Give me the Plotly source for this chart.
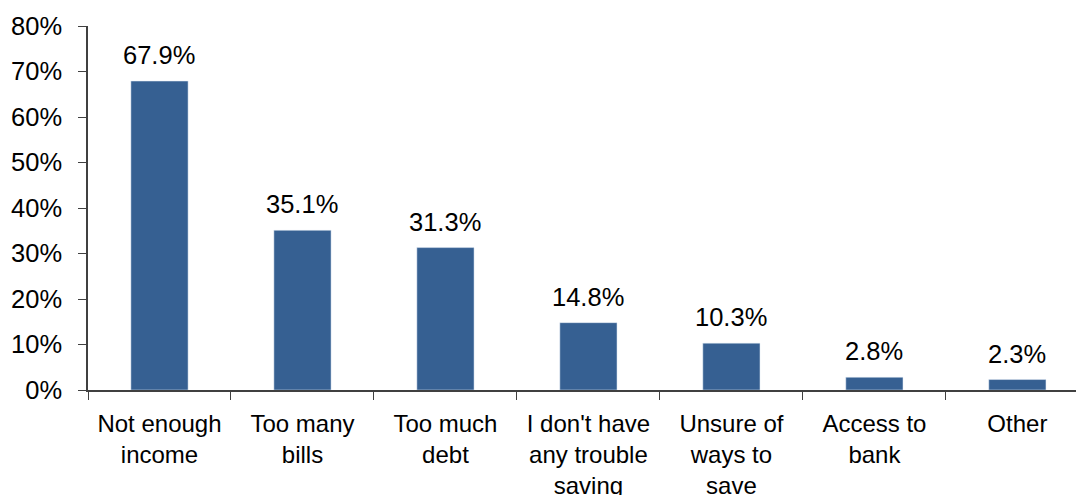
import plotly.graph_objects as go

categories = ["Not enough<br>income", "Too many<br>bills", "Too much<br>debt",
              "I don't have<br>any trouble<br>saving", "Unsure of<br>ways to<br>save",
              "Access to<br>bank", "Other"]
values = [67.9, 35.1, 31.3, 14.8, 10.3, 2.8, 2.3]
labels = ["67.9%", "35.1%", "31.3%", "14.8%", "10.3%", "2.8%", "2.3%"]
y_ticks = [0, 10, 20, 30, 40, 50, 60, 70, 80]
y_tick_text = [f"{v}%" for v in y_ticks]

FONT = "Liberation Sans, Arial, sans-serif"
AXIS_COLOR = "#404040"

fig = go.Figure(go.Bar(x=categories, y=values, marker_color="#366092",
                       width=0.4, hoverinfo="skip"))

for c, v, t in zip(categories, values, labels):
    fig.add_annotation(x=c, y=v, text=t, showarrow=False, yanchor="bottom",
                       yshift=10, font=dict(family=FONT, size=25.5, color="black"))

fig.update_layout(
    width=1076, height=495,
    margin=dict(l=88, r=0, t=26, b=105),
    plot_bgcolor="white", paper_bgcolor="white",
    showlegend=False,
    font=dict(family=FONT, size=25, color="black"),
)
fig.update_xaxes(
    type="category", range=[-0.5, 6.41], automargin=False,
    showline=True, linecolor=AXIS_COLOR, linewidth=1.5,
    ticks="outside", tickson="boundaries", ticklen=8, tickcolor=AXIS_COLOR,
    showgrid=False, tickfont=dict(size=24), ticklabelstandoff=11,
)
fig.update_yaxes(
    range=[0, 80], tickvals=y_ticks, ticktext=y_tick_text, automargin=False,
    showline=True, linecolor=AXIS_COLOR, linewidth=1.5,
    ticks="outside", ticklen=8, tickcolor=AXIS_COLOR,
    showgrid=False, zeroline=False, tickfont=dict(size=25.5), ticklabelstandoff=11,
)

fig.write_html("out.html")
